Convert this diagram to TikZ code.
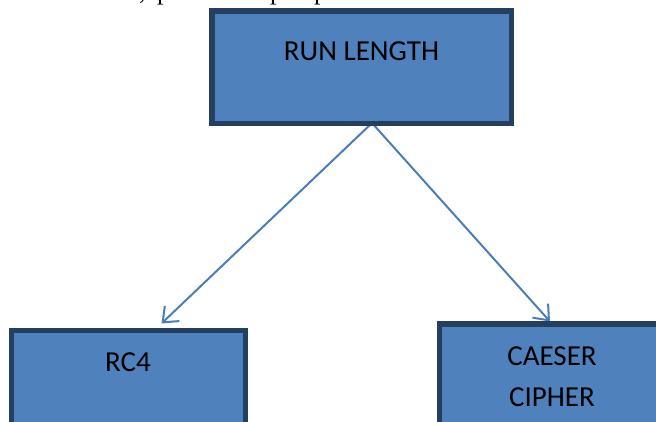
\documentclass[tikz,border=0pt]{standalone}
\usepackage{fontspec}
\setmainfont{Carlito}
\newfontfamily\runningserif{Liberation Serif}
\usetikzlibrary{arrows.meta,backgrounds}
\definecolor{boxfill}{HTML}{4F81BD}
\definecolor{boxline}{HTML}{243F60}
\definecolor{linkblue}{HTML}{4A7EBB}
\begin{document}
\begin{tikzpicture}[x=1pt,y=-1pt,
  algbox/.style={draw=boxline, fill=boxfill, line width=5.5pt, rectangle, inner sep=0pt},
  boxlabel/.style={font=\fontsize{29}{41}\selectfont, text=black, align=center, inner sep=0pt},
  cuttext/.style={font=\runningserif\fontsize{26}{30}\selectfont, text=black, inner sep=0pt, anchor=base west},
  link/.style={draw=linkblue, line width=2pt, -{Straight Barb[length=13pt,width=21pt]}}
]
\useasboundingbox (0,0) rectangle (656,421);
\clip (0,0) rectangle (656,421);

% algorithm boxes (the lower two run past the page edge)
\node[algbox, minimum width=299.5pt, minimum height=112.5pt] (rl) at (361.5,67) {};
\node[algbox, minimum width=234pt, minimum height=112.5pt] (rc4) at (128.5,386.7) {};
\node[algbox, minimum width=234pt, minimum height=112.5pt] (cc) at (556.5,380) {};

% box captions
\node[boxlabel] (rl-text) at (361.5,51) {RUN LENGTH};
\node[boxlabel] (rc4-text) at (128,362) {RC4};
\node[boxlabel] (cc-text) at (552,376.5) {CAESER\\CIPHER};

% tail of the line of body text above the figure
\node[cuttext] (t1) at (139,-0.5) {,};
\node[cuttext] (t2) at (157,-0.5) {p};
\node[cuttext] (t3) at (270,-0.5) {p};
\node[cuttext] (t4) at (314,-0.5) {p};

% connector end points
\coordinate (rl-foot) at (372,123);
\coordinate (rc4-in) at (161.5,323.5);
\coordinate (cc-in) at (550,321.5);

\begin{scope}[on background layer]
  \fill[white] (0,0) rectangle (656,421);
  \draw[link] (rl-foot) -- (rc4-in);
  \draw[link] (rl-foot) -- (cc-in);
\end{scope}
\end{tikzpicture}
\end{document}
